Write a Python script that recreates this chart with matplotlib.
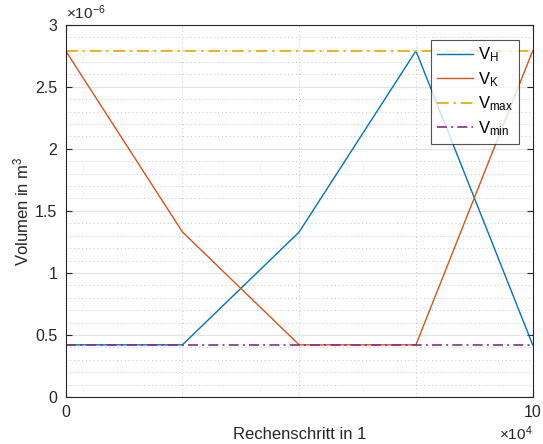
import numpy as np
import matplotlib
matplotlib.use("Agg")
import matplotlib.pyplot as plt
from matplotlib.ticker import FuncFormatter, MultipleLocator, FixedLocator

plt.rcParams['font.family'] = ['Liberation Sans', 'DejaVu Sans']
plt.rcParams['mathtext.fontset'] = 'custom'
plt.rcParams['mathtext.rm'] = 'Liberation Sans'
plt.rcParams['mathtext.it'] = 'Liberation Sans'

# Rechenschritt und Volumen in m^3
schritt = [0, 25000, 50000, 75000, 100000]
v_h = [0.42e-6, 0.42e-6, 1.33e-6, 2.79e-6, 0.42e-6]
v_k = [2.79e-6, 1.33e-6, 0.42e-6, 0.42e-6, 2.79e-6]
v_max = 2.79e-6
v_min = 0.42e-6

c_blau = '#0072BD'
c_orange = '#D95319'
c_gelb = '#EDB120'
c_lila = '#7E2F8E'
grau = '#262626'

fig = plt.figure(figsize=(5.43, 4.44), dpi=100)
ax = fig.add_axes([0.121, 0.106, 0.860, 0.838])

ax.plot(schritt, v_h, color=c_blau, lw=1.0, label=r'V$_\mathrm{H}$')
ax.plot(schritt, v_k, color=c_orange, lw=1.0, label=r'V$_\mathrm{K}$')
ax.plot([schritt[0], schritt[-1]], [v_max, v_max], color=c_gelb, lw=1.4,
        ls=(0, (6, 2.5, 1.2, 2.5)), label=r'V$_\mathrm{max}$')
ax.plot([schritt[0], schritt[-1]], [v_min, v_min], color=c_lila, lw=1.2,
        ls=(0, (6, 2.5, 1.2, 2.5)), label=r'V$_\mathrm{min}$')

ax.set_xlim(0, 100000)
ax.set_ylim(0, 3e-6)

ax.xaxis.set_major_locator(FixedLocator([0, 100000]))
ax.xaxis.set_minor_locator(FixedLocator([25000, 50000, 75000]))
ax.yaxis.set_major_locator(MultipleLocator(0.5e-6))
ax.yaxis.set_minor_locator(MultipleLocator(0.1e-6))
ax.xaxis.set_major_formatter(FuncFormatter(lambda v, p: f"{v/1e4:g}"))
ax.yaxis.set_major_formatter(FuncFormatter(lambda v, p: f"{v*1e6:g}"))

ax.grid(True, which='major', axis='y', color='#e3e3e3', lw=0.9)
ax.grid(True, which='minor', axis='both', color='#c4c4c4', lw=0.7, ls=(0, (1, 3)))
ax.set_axisbelow(True)

ax.tick_params(which='major', direction='in', length=4, width=0.8, colors=grau,
               labelsize=11.5, top=True, right=True, pad=6)
ax.tick_params(which='minor', length=0)
for s in ax.spines.values():
    s.set_color(grau)
    s.set_linewidth(0.8)

ax.set_xlabel('Rechenschritt in 1', fontsize=12, color=grau, labelpad=5)
ax.set_ylabel(r'Volumen in m$^3$', fontsize=12, color=grau, labelpad=3)

ax.text(0.0, 1.008, r'$\times$10$^{-6}$', transform=ax.transAxes,
        fontsize=11, color=grau, ha='left', va='bottom')
ax.text(1.0, -0.074, r'$\times$10$^{4}$', transform=ax.transAxes,
        fontsize=11, color=grau, ha='right', va='top')

leg = ax.legend(loc='upper right', bbox_to_anchor=(0.971, 0.96), fontsize=12,
                frameon=True, fancybox=False, borderaxespad=0, handlelength=2.2,
                handletextpad=0.3, labelspacing=0.35, borderpad=0.35)
leg.get_frame().set_edgecolor(grau)
leg.get_frame().set_linewidth(0.8)

fig.savefig('out.png', dpi=100)
